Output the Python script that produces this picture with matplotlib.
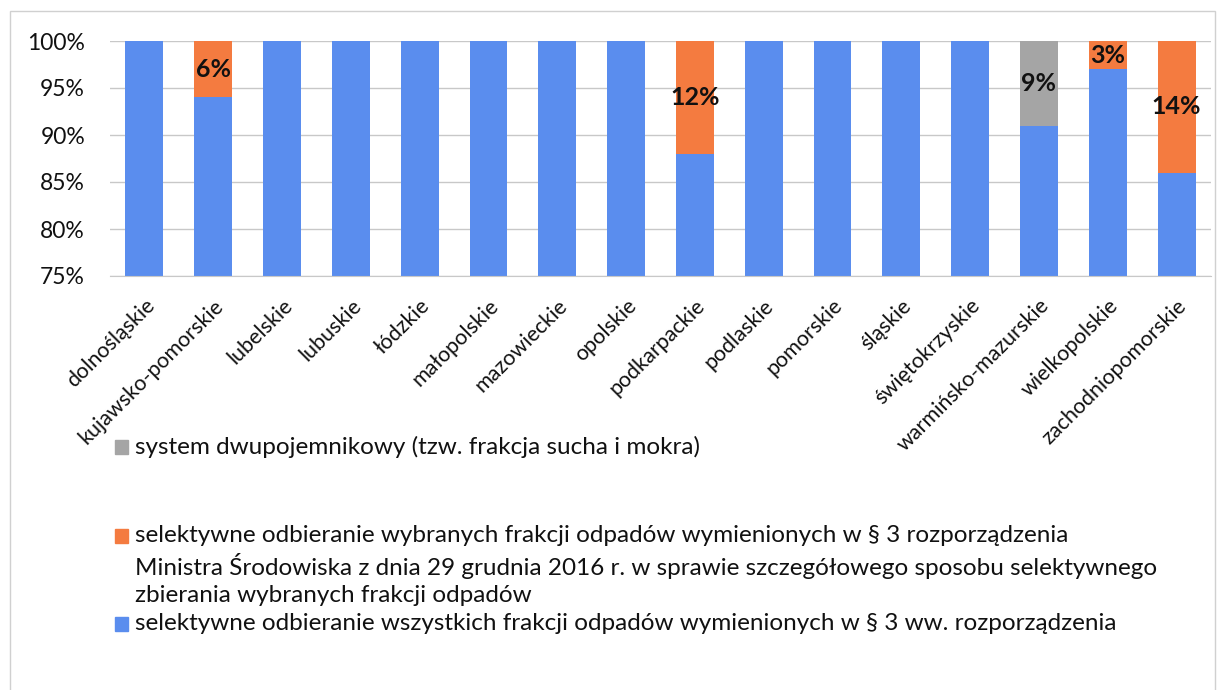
import matplotlib.pyplot as plt
from matplotlib.patches import Rectangle
import numpy as np

plt.rcParams['font.family'] = ['Lato', 'DejaVu Sans']

regions = ['dolnośląskie', 'kujawsko-pomorskie', 'lubelskie', 'lubuskie', 'łódzkie',
           'małopolskie', 'mazowieckie', 'opolskie', 'podkarpackie', 'podlaskie',
           'pomorskie', 'śląskie', 'świętokrzyskie', 'warmińsko-mazurskie',
           'wielkopolskie', 'zachodniopomorskie']
# shares in %
all_fractions = [100, 94, 100, 100, 100, 100, 100, 100, 88, 100, 100, 100, 100, 91, 97, 86]
chosen_fractions = [0, 6, 0, 0, 0, 0, 0, 0, 12, 0, 0, 0, 0, 0, 3, 14]
two_bin = [0, 0, 0, 0, 0, 0, 0, 0, 0, 0, 0, 0, 0, 9, 0, 0]

legend_gray = ['system dwupojemnikowy (tzw. frakcja sucha i mokra)']
legend_orange = [
    'selektywne odbieranie wybranych frakcji odpadów wymienionych w § 3 rozporządzenia',
    'Ministra Środowiska z dnia 29 grudnia 2016 r. w sprawie szczegółowego sposobu selektywnego',
    'zbierania wybranych frakcji odpadów',
]
legend_blue = ['selektywne odbieranie wszystkich frakcji odpadów wymienionych w § 3 ww. rozporządzenia']

BLUE = '#5A8DEE'
ORANGE = '#F47B40'
GRAY = '#A5A5A5'

W, H = 1223, 690
fig = plt.figure(figsize=(W / 100, H / 100), dpi=100)
ax = fig.add_axes([110 / W, 1 - 276 / H, (1211 - 110) / W, (276 - 41) / H])

x = np.arange(len(regions))
blue = np.array(all_fractions, dtype=float)
orange = np.array(chosen_fractions, dtype=float)
gray = np.array(two_bin, dtype=float)

b1 = ax.bar(x, blue, width=0.55, color=BLUE, zorder=2)
b2 = ax.bar(x, orange, bottom=blue, width=0.55, color=ORANGE, zorder=2)
b3 = ax.bar(x, gray, bottom=blue + orange, width=0.55, color=GRAY, zorder=2)

for bars, vals in ((b2, orange), (b3, gray)):
    labels = [f'{int(v)}%' if v > 0 else '' for v in vals]
    ax.bar_label(bars, labels=labels, label_type='center', fontsize=18,
                 fontweight='bold', color='#111111', zorder=3)

ax.set_ylim(75, 100)
ax.set_xlim(-0.5, len(regions) - 0.5)
ax.set_yticks([75, 80, 85, 90, 95, 100])
ax.set_yticklabels([f'{t}%' for t in [75, 80, 85, 90, 95, 100]], fontsize=16.5,
                   color='#111111')
ax.yaxis.grid(True, color='#C8C8C8', linewidth=1, zorder=0)
ax.set_axisbelow(True)
ax.tick_params(axis='y', length=0, pad=18)
ax.tick_params(axis='x', length=0, pad=14)
ax.set_xticks(x)
ax.set_xticklabels(regions, rotation=45, ha='right', rotation_mode='anchor',
                   fontsize=15.5, color='#111111')
for s in ['top', 'right', 'left']:
    ax.spines[s].set_visible(False)
ax.spines['bottom'].set_color('#C8C8C8')

# legend drawn by hand, Excel-style wrapped entries
def legend_entry(color, lines, y_first, step):
    fig.patches.append(Rectangle((115 / W, 1 - (y_first + 7) / H), 13 / W, 14 / H,
                                 transform=fig.transFigure, color=color))
    for i, line in enumerate(lines):
        fig.text(135 / W, 1 - (y_first + i * step) / H, line, fontsize=17.5,
                 va='center', color='#111111')

legend_entry(GRAY, legend_gray, 447, 30)
legend_entry(ORANGE, legend_orange, 536, 30)
legend_entry(BLUE, legend_blue, 624, 30)

# chart frame
fig.patches.append(Rectangle((10 / W, -0.05), 1205 / W, 1 - 11 / H + 0.05,
                             transform=fig.transFigure, fill=False,
                             edgecolor='#D0D0D0', linewidth=1))

fig.savefig('out.png', dpi=100)
